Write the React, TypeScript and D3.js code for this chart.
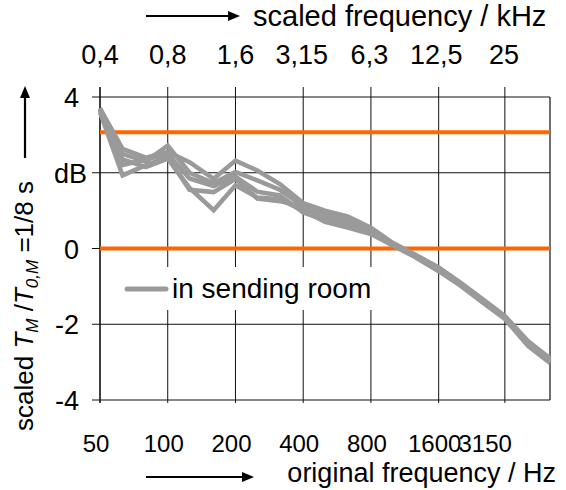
import * as d3 from 'd3';
import React from 'react';

const width = 566;
const height = 490;
const margin = { top: 97, right: 16, bottom: 90, left: 100 };
const grey = '#9a9a9a';
const orange = '#ff6600';
const font = '"Liberation Sans", Arial, sans-serif';

// third-octave bands, original frequency in Hz
const bands = [50, 63, 80, 100, 125, 160, 200, 250, 315, 400, 500, 630, 800, 1000, 1250, 1600, 2000, 2500, 3150, 4000, 5000];

// curves measured in the sending room (dB)
const seriesA = [3.7, 2.63, 2.4, 2.55, 2.28, 1.84, 2.32, 2.06, 1.7, 1.2, 1.0, 0.85, 0.55, 0.15, -0.15, -0.5, -0.9, -1.33, -1.78, -2.45, -2.9];
const seriesB = [3.65, 2.5, 2.3, 2.72, 2.0, 1.72, 2.02, 1.8, 1.55, 1.12, 0.95, 0.75, 0.5, 0.12, -0.18, -0.52, -0.92, -1.36, -1.8, -2.5, -2.95];
const seriesC = [3.6, 1.93, 2.2, 2.41, 1.55, 1.49, 1.84, 1.32, 1.25, 1.1, 0.83, 0.7, 0.45, 0.1, -0.2, -0.56, -0.95, -1.4, -1.84, -2.55, -3.0];
const seriesD = [3.7, 2.35, 2.15, 2.37, 1.6, 1.01, 1.67, 1.35, 1.3, 1.0, 0.7, 0.55, 0.38, 0.08, -0.22, -0.6, -0.98, -1.42, -1.86, -2.58, -3.02];
const seriesE = [3.68, 2.2, 2.35, 2.5, 1.85, 1.65, 1.9, 1.5, 1.4, 0.95, 0.75, 0.6, 0.42, 0.1, -0.18, -0.55, -0.95, -1.38, -1.82, -2.52, -2.98];
const allSeries = [seriesA, seriesB, seriesC, seriesD, seriesE];

// tolerance band limits (dB)
const limits = [3.07, 0];

const bottomTicks = [50, 100, 200, 400, 800, 1600, 3150];
// scaled frequency in kHz (1:8 model)
const topTicks = [0.4, 0.8, 1.6, 3.15, 6.3, 12.5, 25];
const topTickLabels = ['0,4', '0,8', '1,6', '3,15', '6,3', '12,5', '25'];
const yTicks = [-4, -2, 0, 2, 4];
const yTickLabels = ['-4', '-2', '0', 'dB', '4'];

const x = d3.scaleLog().domain([50, 5000]).range([margin.left, width - margin.right]);
const xTop = d3.scaleLog().domain([0.4, 40]).range([margin.left, width - margin.right]);
const y = d3.scaleLinear().domain([-4, 4]).range([height - margin.bottom, margin.top]);

const line = d3
  .line<number>()
  .x((d, i) => x(bands[i]))
  .y(d => y(d));

const Arrow = ({ x1, y1, x2, y2 }: { x1: number; y1: number; x2: number; y2: number }) => {
  const a = Math.atan2(y2 - y1, x2 - x1);
  const l = 12;
  const w = 5;
  const bx = x2 - l * Math.cos(a);
  const by = y2 - l * Math.sin(a);
  const px = -Math.sin(a) * w;
  const py = Math.cos(a) * w;
  return (
    <g>
      <line x1={x1} y1={y1} x2={bx} y2={by} stroke="#000" strokeWidth={2.2} />
      <path d={`M${x2},${y2}L${bx + px},${by + py}L${bx - px},${by - py}Z`} fill="#000" />
    </g>
  );
};

export default function App() {
  const x0 = margin.left;
  const x1 = width - margin.right;
  const y0 = margin.top;
  const y1 = height - margin.bottom;
  const last = bottomTicks.length - 1;

  return (
    <svg
      width={width}
      height={height}
      style={{ position: 'absolute', left: 0, top: 0, background: '#fff' }}
      fontFamily={font}
    >
      {/* grid */}
      {yTicks.map(t => (
        <line key={'h' + t} x1={x0 - 8} x2={x1} y1={y(t)} y2={y(t)} stroke="#111" strokeWidth={1} />
      ))}
      {bottomTicks.map(t => (
        <line key={'v' + t} x1={x(t)} x2={x(t)} y1={y0 - 10} y2={y1 + 3} stroke="#111" strokeWidth={1} />
      ))}
      <line x1={x0} x2={x0} y1={y0 - 10} y2={y1 + 3} stroke="#111" strokeWidth={1.2} />
      <line x1={x1} x2={x1} y1={y0} y2={y1} stroke="#111" strokeWidth={1.2} />

      {/* legend box hides grid */}
      <rect x={112} y={267} width={270} height={43} fill="#fff" />

      {/* limits */}
      {limits.map(v => (
        <line key={'l' + v} x1={x0} x2={x1} y1={y(v)} y2={y(v)} stroke={orange} strokeWidth={4} />
      ))}

      {/* curves */}
      {allSeries.map((s, i) => (
        <path key={i} d={line(s) || ''} fill="none" stroke={grey} strokeWidth={4.5} />
      ))}

      {/* legend */}
      <line x1={127} x2={166} y1={289} y2={289} stroke={grey} strokeWidth={5} strokeLinecap="round" />
      <text x={172} y={298} fontSize={28}>
        in sending room
      </text>

      {/* y ticks */}
      {yTicks.map((t, i) => (
        <text key={'yt' + t} x={t === 2 ? 87 : 79} y={y(t) + 10} fontSize={27} textAnchor="end">
          {yTickLabels[i]}
        </text>
      ))}

      {/* bottom ticks */}
      {bottomTicks.map((t, i) => (
        <text
          key={'bt' + t}
          x={i === last ? x(t) + 7 : x(t) - 4}
          y={452}
          fontSize={24}
          textAnchor={i === last ? 'end' : 'middle'}
        >
          {t}
        </text>
      ))}
      <Arrow x1={146} y1={477} x2={254} y2={477} />
      <text x={556} y={482} fontSize={27} textAnchor="end">
        original frequency / Hz
      </text>

      {/* top ticks */}
      {topTicks.map((t, i) => (
        <text key={'tt' + t} x={xTop(t)} y={64} fontSize={27} textAnchor="middle">
          {topTickLabels[i]}
        </text>
      ))}
      <Arrow x1={146} y1={16} x2={240} y2={16} />
      <text x={253} y={26} fontSize={29}>
        scaled frequency / kHz
      </text>

      {/* y label */}
      <Arrow x1={25} y1={158} x2={25} y2={86} />
      <text transform="translate(33,306) rotate(-90)" fontSize={26} textAnchor="middle">
        scaled <tspan fontStyle="italic">T</tspan>
        <tspan fontStyle="italic" fontSize={17} dy={5}>M</tspan>
        <tspan dy={-5}> /</tspan>
        <tspan fontStyle="italic">T</tspan>
        <tspan fontStyle="italic" fontSize={17} dy={5}>0,M</tspan>
        <tspan dy={-5}> =1/8 s</tspan>
      </text>
    </svg>
  );
}
